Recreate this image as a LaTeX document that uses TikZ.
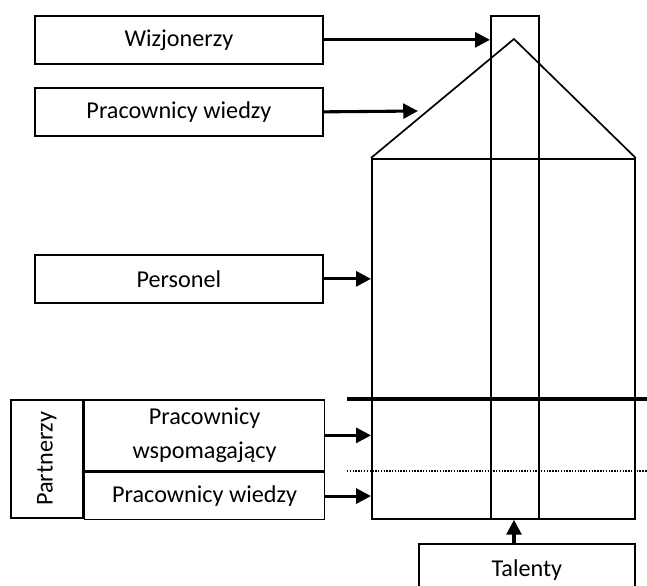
\documentclass[tikz,border=0pt]{standalone}
\usepackage{fontspec}
\setmainfont{Carlito}
\usetikzlibrary{arrows.meta}

\tikzset{
  box/.style={draw=black,line width=1.2pt,inner sep=0pt,anchor=north west,
    minimum width=7.2cm,minimum height=1.2cm,align=center,
    font=\fontsize{17.2}{24}\selectfont},
  wall/.style={draw=black,line width=1.2pt,inner sep=0pt,anchor=north west},
  feed/.style={-{Triangle[length=10.5pt,width=10.5pt]},line width=2.2pt}
}

\begin{document}
\begin{tikzpicture}[x=0.025cm,y=-0.025cm]
      \useasboundingbox (0,0) rectangle (647,586);

      % house
      \draw (371,158) node [wall,minimum width=6.575cm,minimum height=9cm] (house) {};
      \coordinate (apex) at (514,39);
      \draw[line width=1.2pt] (house.north west) -- (apex) -- (house.north east);
      \draw (490,15) node [wall,minimum width=1.2cm,minimum height=12.575cm] (chimney) {};

      \draw[line width=2.4pt] (347,399) -- (647,399);
      \draw[line width=1.2pt,dash pattern=on 1pt off 1pt] (347,471) -- (647,471);

      % boxes on the left
      \draw (34,15) node [box] (wiz) {Wizjonerzy};
      \draw (34,87) node [box] (wiedza) {Pracownicy wiedzy};
      \draw (34,254) node [box] (personel) {Personel};

      \draw (10,399) node [box,minimum width=1.8cm,minimum height=2.95cm] (partn) {};
      \node [rotate=90,font=\fontsize{17.2}{21}\selectfont] at (partn.center) {Partnerzy};
      \draw (partn.north east) node [box,minimum width=6cm,minimum height=1.775cm] (wspom)
        {Pracownicy\\wspomagający};
      \draw (wspom.south west) node [box,minimum width=6cm,minimum height=1.175cm] (pwiedza)
        {Pracownicy wiedzy};

      \draw (418,543) node [box,minimum width=5.4cm,minimum height=1.3cm] (talent) {Talenty};

      \coordinate (roofhit) at (418,111);
      \draw[feed] (wiz.east) -- (wiz.east -| chimney.west);
      \draw[feed] (wiedza.east) -- (roofhit);
      \draw[feed] (personel.east) -- (personel.east -| house.west);
      \draw[feed] (wspom.east) -- (wspom.east -| house.west);
      \draw[feed] (pwiedza.east) -- (pwiedza.east -| house.west);
      \draw[feed] (talent.north -| apex) -- (house.south -| apex);
   \end{tikzpicture}
\end{document}
